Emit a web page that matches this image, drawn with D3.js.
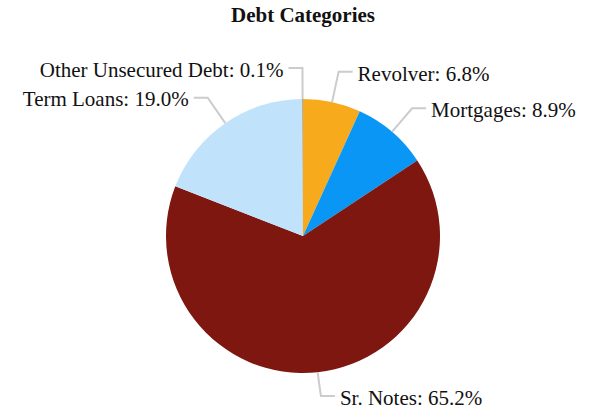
<!DOCTYPE html>
<html><head><meta charset="utf-8">
<script src="https://cdn.jsdelivr.net/npm/d3@7"></script>
<style>body{margin:0;background:#fff}svg{display:block}</style>
</head><body>
<svg id="c" width="593" height="409"></svg>
<script>
const categories = ["Revolver", "Mortgages", "Sr. Notes", "Term Loans", "Other Unsecured Debt"];
const values = [6.8, 8.9, 65.2, 19.0, 0.1];
const colors = ["#F7AA1C", "#0A96F5", "#7D1710", "#C0E2FB", "#9E9E9E"];
const title = "Debt Categories";

const svg = d3.select("#c");
const W = 593, H = 409;
const cx = 303, cy = 236, R = 137;
const FONT = "'Liberation Serif', 'Times New Roman', serif";

svg.append("text").attr("x", cx).attr("y", 22).attr("text-anchor", "middle")
  .attr("font-family", FONT)
  .attr("font-weight", "bold").attr("font-size", 21).attr("fill", "#111").text(title);

const data = categories.map((c, i) => ({name: c, value: values[i], color: colors[i]}));
const pie = d3.pie().sort(null).value(d => d.value);
const arcs = pie(data);
const arc = d3.arc().innerRadius(0).outerRadius(R);
const g = svg.append("g").attr("transform", `translate(${cx},${cy})`);
g.selectAll("path").data(arcs).join("path").attr("d", arc).attr("fill", d => d.data.color);

const edge = d3.arc().innerRadius(R).outerRadius(R);
const outer = d3.arc().innerRadius(R + 31).outerRadius(R + 31);
const maxY = H - 13 - cy;
arcs.forEach(a => {
  const p0 = edge.centroid(a), p1 = outer.centroid(a);
  if (p1[1] > maxY) p1[1] = maxY;
  const mid = (a.startAngle + a.endAngle) / 2;
  const right = Math.sin(mid) >= 0 && mid < Math.PI * 2 - 0.01;
  const dir = right ? 1 : -1;
  const p2 = [p1[0] + dir * 14, p1[1]];
  g.append("polyline").attr("points", [p0, p1, p2].map(p => p.join(",")).join(" "))
    .attr("fill", "none").attr("stroke", "#CCCCCC").attr("stroke-width", 2);
  g.append("text").attr("x", p2[0] + dir * 5).attr("y", p2[1]).attr("dy", "0.42em")
    .attr("text-anchor", right ? "start" : "end")
    .attr("font-family", FONT)
    .attr("font-size", 21).attr("fill", "#111")
    .text(`${a.data.name}: ${a.data.value.toFixed(1)}%`);
});
</script>
</body></html>
